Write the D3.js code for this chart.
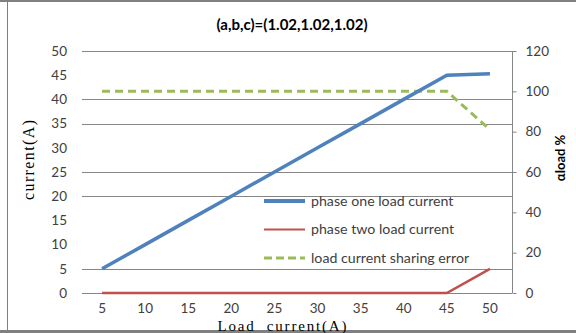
<!DOCTYPE html>
<html>
<head>
<meta charset="utf-8">
<script src="https://cdn.jsdelivr.net/npm/d3@7"></script>
<style>
  html, body { margin: 0; padding: 0; background: #fff; }
  svg { display: block; }
</style>
</head>
<body>
<svg id="chart" width="576" height="333"></svg>
<script>
// Load current steps (A)
const categories = [5, 10, 15, 20, 25, 30, 35, 40, 45, 50];
// Phase currents (A), left axis
const phaseOne = [5, 10, 15, 20, 25, 30, 35, 40, 45, 45.3];
const phaseTwo = [0, 0, 0, 0, 0, 0, 0, 0, 0, 5];
// Sharing error (%), right axis
const sharingError = [100, 100, 100, 100, 100, 100, 100, 100, 100, 81];

const leftTicks = [0, 5, 10, 15, 20, 25, 30, 35, 40, 45, 50];
const rightTicks = [0, 20, 40, 60, 80, 100, 120];
const gridLevels = [0, 5, 20, 25, 35, 40, 50];

const seriesNames = ["phase one load current", "phase two load current", "load current sharing error"];

const svg = d3.select("#chart");
const tickFont = "Lato, 'Open Sans', sans-serif";
const serif = "'Liberation Serif', 'DejaVu Serif', serif";

// outer frame
svg.append("line").attr("x1", 0).attr("x2", 576).attr("y1", 1).attr("y2", 1)
  .attr("stroke", "#808080").attr("stroke-width", 2);
svg.append("line").attr("x1", 0).attr("x2", 576).attr("y1", 331.5).attr("y2", 331.5)
  .attr("stroke", "#808080").attr("stroke-width", 3);
svg.append("line").attr("x1", 7.5).attr("x2", 7.5).attr("y1", 0).attr("y2", 333)
  .attr("stroke", "#808080").attr("stroke-width", 1);

const x = d3.scaleBand().domain(categories).range([80.5, 511.5]).padding(0);
const cx = d => x(d) + x.bandwidth() / 2;
const yL = d3.scaleLinear().domain([0, 50]).range([293, 51]);
const yR = d3.scaleLinear().domain([0, 120]).range([293, 51]);

// gridlines
svg.append("g").selectAll("line").data(gridLevels).join("line")
  .attr("x1", 82).attr("x2", 512)
  .attr("y1", d => Math.round(yL(d)) + 0.5).attr("y2", d => Math.round(yL(d)) + 0.5)
  .attr("stroke", "#868686").attr("stroke-width", 1);

// left axis labels
const axL = d3.axisLeft(yL).tickValues(leftTicks).tickSize(0).tickPadding(0);
const gL = svg.append("g").attr("transform", "translate(67,0)").call(axL);
gL.select(".domain").remove();
gL.selectAll("text").attr("font-family", tickFont).attr("font-size", 13.5).attr("fill", "#404040");

// right axis
const axR = d3.axisRight(yR).tickValues(rightTicks).tickSize(4).tickPadding(9);
const gR = svg.append("g").attr("transform", "translate(512.5,0)").call(axR);
gR.select(".domain").attr("stroke", "#868686").attr("d", "M0,51V293");
gR.selectAll(".tick line").attr("stroke", "#868686");
gR.selectAll("text").attr("font-family", tickFont).attr("font-size", 13.5).attr("fill", "#404040");

// bottom axis
const axB = d3.axisBottom(x).tickSize(0).tickPadding(0);
const gB = svg.append("g").attr("transform", "translate(0,303)").call(axB);
gB.select(".domain").remove();
gB.selectAll("text").attr("font-family", tickFont).attr("font-size", 13.5).attr("fill", "#404040");

// series lines
const lineL = d3.line().x((d, i) => cx(categories[i])).y(d => yL(d));
const lineR = d3.line().x((d, i) => cx(categories[i])).y(d => yR(d));

svg.append("path").datum(phaseTwo).attr("d", lineL)
  .attr("fill", "none").attr("stroke", "#C0504D").attr("stroke-width", 2.5);
svg.append("path").datum(sharingError).attr("d", lineR)
  .attr("fill", "none").attr("stroke", "#9BBB59").attr("stroke-width", 3)
  .attr("stroke-dasharray", "8,5");
svg.append("path").datum(phaseOne).attr("d", lineL)
  .attr("fill", "none").attr("stroke", "#4F81BD").attr("stroke-width", 3.5);

// legend
const legStyles = [
  { color: "#4F81BD", width: 4, dash: null },
  { color: "#C0504D", width: 2, dash: null },
  { color: "#9BBB59", width: 3, dash: "8,4" }
];
const leg = svg.append("g").selectAll("g").data(seriesNames).join("g")
  .attr("transform", (d, i) => `translate(264,${201 + i * 28.5})`);
leg.append("line").attr("x1", 0).attr("x2", 41).attr("y1", 0).attr("y2", 0)
  .attr("stroke", (d, i) => legStyles[i].color)
  .attr("stroke-width", (d, i) => legStyles[i].width)
  .attr("stroke-dasharray", (d, i) => legStyles[i].dash);
leg.append("text").attr("x", 47).attr("y", 0).attr("dy", "0.35em")
  .attr("font-family", tickFont).attr("font-size", 14.2).attr("fill", "#404040")
  .text(d => d);

// titles
svg.append("text").attr("x", 292).attr("y", 25).attr("dy", "0.35em")
  .attr("text-anchor", "middle").attr("font-family", tickFont).attr("font-weight", "bold")
  .attr("font-size", 15).attr("fill", "#000")
  .text("(a,b,c)=(1.02,1.02,1.02)");

svg.append("text").attr("transform", "translate(28,160) rotate(-90)").attr("dy", "0.35em")
  .attr("text-anchor", "middle").attr("font-family", serif).attr("font-size", 16)
  .attr("textLength", 80).attr("lengthAdjust", "spacing")
  .attr("fill", "#000").text("current(A)");

svg.append("text").attr("transform", "translate(560,158) rotate(-90)").attr("dy", "0.35em")
  .attr("text-anchor", "middle").attr("font-family", tickFont).attr("font-weight", "bold")
  .attr("font-size", 13).attr("fill", "#000").text("αload %");

svg.append("text").attr("x", 282).attr("y", 330.5)
  .attr("text-anchor", "middle").attr("font-family", serif).attr("font-size", 15)
  .attr("textLength", 129).attr("lengthAdjust", "spacing")
  .attr("fill", "#000").attr("xml:space", "preserve").text("Load  current(A)");
</script>
</body>
</html>
